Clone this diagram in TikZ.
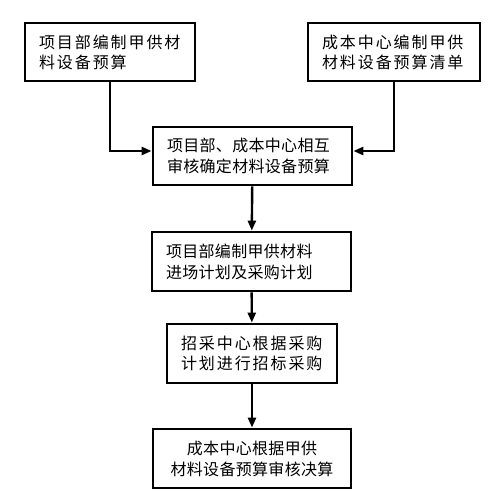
\documentclass[tikz,border=0pt]{standalone}
\usepackage{fontspec}
\usepackage{tikz}
\usetikzlibrary{arrows.meta}
\newfontfamily\cjkwide{Noto Sans CJK SC}[LetterSpace=12]
\newfontfamily\cjknarrow{Noto Sans CJK SC}[LetterSpace=2]

\begin{document}
\begin{tikzpicture}[x=1pt, y=-1pt,
  stepbox/.style={draw=black, line width=2.8pt, inner xsep=14pt, inner ysep=0pt,
    minimum height=58pt, align=left},
  widetext/.style={font=\fontsize{16}{20}\cjkwide},
  narrowtext/.style={font=\fontsize{16}{21}\cjknarrow},
  flowline/.style={line width=2.4pt, -{Triangle[length=10pt, width=8pt]}}]
\useasboundingbox (0, 0) rectangle (500, 490);

%draw boxes
\node[stepbox, widetext, text width=142pt] (budgetpm) at (110, 52) {项目部编制甲供材\\料设备预算};
\node[stepbox, widetext, text width=144pt] (budgetcc) at (394, 52) {成本中心编制甲供\\材料设备预算清单};
\node[stepbox, narrowtext, text width=171pt] (review) at (252.5, 156) {项目部、成本中心相互\\审核确定材料设备预算};
\node[stepbox, narrowtext, text width=171pt, minimum height=59pt] (plan) at (251.5, 261.5) {项目部编制甲供材料\\进场计划及采购计划};
\node[stepbox, widetext, text width=142pt, minimum height=59pt] (tender) at (252, 353.5) {招采中心根据采购\\计划进行招标采购};
\node[stepbox, narrowtext, text width=170pt, minimum height=59pt, align=center] (settle) at (252, 458.5) {成本中心根据甲供\\材料设备预算审核决算};

%draw connectors
\draw[flowline] (budgetpm.south) |- ([yshift=5pt]review.west);
\draw[flowline] (budgetcc.south) |- ([yshift=5pt]review.east);
\draw[flowline] (review) -- (plan);
\draw[flowline] (plan) -- (tender);
\draw[flowline] (tender) -- (settle);
\end{tikzpicture}
\end{document}
